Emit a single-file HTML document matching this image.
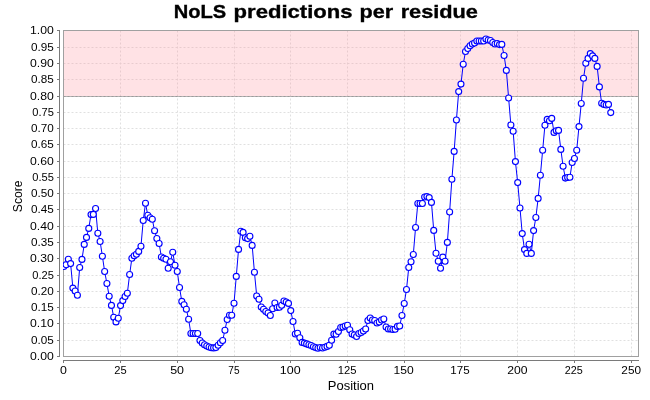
<!DOCTYPE html>
<html><head><meta charset="utf-8"><style>
html,body{margin:0;padding:0;background:#fff;width:650px;height:400px;overflow:hidden}
svg{display:block;will-change:transform}
text{font-family:"Liberation Sans",sans-serif;fill:#000}
</style></head><body>
<svg width="650" height="400" viewBox="0 0 650 400">
<defs><clipPath id="pc"><rect x="63" y="30" width="576" height="327"/></clipPath></defs>

<text x="173.77" y="18" font-size="18.5" font-weight="bold" stroke="#000" stroke-width="0.35" textLength="52.45" lengthAdjust="spacingAndGlyphs">NoLS</text>
<text x="233.61" y="18" font-size="18.5" font-weight="bold" stroke="#000" stroke-width="0.35" textLength="118.94" lengthAdjust="spacingAndGlyphs">predictions</text>
<text x="359.64" y="18" font-size="18.5" font-weight="bold" stroke="#000" stroke-width="0.35" textLength="33.62" lengthAdjust="spacingAndGlyphs">per</text>
<text x="400.66" y="18" font-size="18.5" font-weight="bold" stroke="#000" stroke-width="0.35" textLength="77.30" lengthAdjust="spacingAndGlyphs">residue</text>
<rect x="63" y="30" width="575" height="326" fill="#fff"/>
<path d="M63.5 47.5H638M63.5 63.5H638M63.5 79.5H638M63.5 96.5H638M63.5 112.5H638M63.5 128.5H638M63.5 144.5H638M63.5 161.5H638M63.5 177.5H638M63.5 193.5H638M63.5 209.5H638M63.5 226.5H638M63.5 242.5H638M63.5 258.5H638M63.5 275.5H638M63.5 291.5H638M63.5 307.5H638M63.5 323.5H638M63.5 340.5H638M120.5 30.5V356M177.5 30.5V356M234.5 30.5V356M290.5 30.5V356M347.5 30.5V356M404.5 30.5V356M460.5 30.5V356M517.5 30.5V356M574.5 30.5V356M631.5 30.5V356" stroke="#e0e0e0" stroke-width="1" stroke-dasharray="2,2" fill="none"/>
<rect x="64" y="31" width="574" height="65" fill="rgb(255,140,150)" fill-opacity="0.25"/>
<path d="M64 96.5H638" stroke="#b4b4b4" stroke-width="1"/>
<path d="M63.5 96.5H638" stroke="#9a9a9a" stroke-width="1" stroke-dasharray="2,2"/>
<rect x="63.5" y="30.5" width="575" height="326" fill="none" stroke="#a0a0a0" stroke-width="1"/>
<path d="M59.5 30V357M63 360.5H639" stroke="#7a7a7a" stroke-width="1" fill="none"/>
<path d="M57 30.5H59M57 47.5H59M57 63.5H59M57 79.5H59M57 96.5H59M57 112.5H59M57 128.5H59M57 144.5H59M57 161.5H59M57 177.5H59M57 193.5H59M57 209.5H59M57 226.5H59M57 242.5H59M57 258.5H59M57 275.5H59M57 291.5H59M57 307.5H59M57 323.5H59M57 340.5H59M57 356.5H59M63.5 361V363M120.5 361V363M177.5 361V363M234.5 361V363M290.5 361V363M347.5 361V363M404.5 361V363M460.5 361V363M517.5 361V363M574.5 361V363M631.5 361V363" stroke="#7a7a7a" stroke-width="1" fill="none"/>
<text x="53.85" y="34.3" font-size="10.4" text-anchor="end" textLength="23.80" lengthAdjust="spacingAndGlyphs">1.00</text><text x="53.85" y="51.3" font-size="10.4" text-anchor="end" textLength="22.80" lengthAdjust="spacingAndGlyphs">0.95</text><text x="53.85" y="67.3" font-size="10.4" text-anchor="end" textLength="23.80" lengthAdjust="spacingAndGlyphs">0.90</text><text x="53.85" y="83.3" font-size="10.4" text-anchor="end" textLength="22.80" lengthAdjust="spacingAndGlyphs">0.85</text><text x="53.85" y="100.3" font-size="10.4" text-anchor="end" textLength="23.80" lengthAdjust="spacingAndGlyphs">0.80</text><text x="53.85" y="116.3" font-size="10.4" text-anchor="end" textLength="21.60" lengthAdjust="spacingAndGlyphs">0.75</text><text x="53.85" y="132.3" font-size="10.4" text-anchor="end" textLength="22.80" lengthAdjust="spacingAndGlyphs">0.70</text><text x="53.85" y="148.3" font-size="10.4" text-anchor="end" textLength="22.80" lengthAdjust="spacingAndGlyphs">0.65</text><text x="53.85" y="165.3" font-size="10.4" text-anchor="end" textLength="23.80" lengthAdjust="spacingAndGlyphs">0.60</text><text x="53.85" y="181.3" font-size="10.4" text-anchor="end" textLength="21.60" lengthAdjust="spacingAndGlyphs">0.55</text><text x="53.85" y="197.3" font-size="10.4" text-anchor="end" textLength="22.80" lengthAdjust="spacingAndGlyphs">0.50</text><text x="53.85" y="213.3" font-size="10.4" text-anchor="end" textLength="22.80" lengthAdjust="spacingAndGlyphs">0.45</text><text x="53.85" y="230.3" font-size="10.4" text-anchor="end" textLength="23.80" lengthAdjust="spacingAndGlyphs">0.40</text><text x="53.85" y="246.3" font-size="10.4" text-anchor="end" textLength="22.80" lengthAdjust="spacingAndGlyphs">0.35</text><text x="53.85" y="262.3" font-size="10.4" text-anchor="end" textLength="23.80" lengthAdjust="spacingAndGlyphs">0.30</text><text x="53.85" y="279.3" font-size="10.4" text-anchor="end" textLength="21.60" lengthAdjust="spacingAndGlyphs">0.25</text><text x="53.85" y="295.3" font-size="10.4" text-anchor="end" textLength="22.80" lengthAdjust="spacingAndGlyphs">0.20</text><text x="53.85" y="311.3" font-size="10.4" text-anchor="end" textLength="22.80" lengthAdjust="spacingAndGlyphs">0.15</text><text x="53.85" y="327.3" font-size="10.4" text-anchor="end" textLength="23.80" lengthAdjust="spacingAndGlyphs">0.10</text><text x="53.85" y="344.3" font-size="10.4" text-anchor="end" textLength="22.80" lengthAdjust="spacingAndGlyphs">0.05</text><text x="53.85" y="360.3" font-size="10.4" text-anchor="end" textLength="23.80" lengthAdjust="spacingAndGlyphs">0.00</text>
<text x="59.94" y="374.2" font-size="10.4" textLength="6.87" lengthAdjust="spacingAndGlyphs">0</text><text x="114.34" y="374.2" font-size="10.4" textLength="12.37" lengthAdjust="spacingAndGlyphs">25</text><text x="170.19" y="374.2" font-size="10.4" textLength="13.82" lengthAdjust="spacingAndGlyphs">50</text><text x="228.37" y="374.2" font-size="10.4" textLength="11.22" lengthAdjust="spacingAndGlyphs">75</text><text x="279.86" y="374.2" font-size="10.4" textLength="20.83" lengthAdjust="spacingAndGlyphs">100</text><text x="337.84" y="374.2" font-size="10.4" textLength="18.75" lengthAdjust="spacingAndGlyphs">125</text><text x="393.46" y="374.2" font-size="10.4" textLength="20.18" lengthAdjust="spacingAndGlyphs">150</text><text x="450.37" y="374.2" font-size="10.4" textLength="19.33" lengthAdjust="spacingAndGlyphs">175</text><text x="507.35" y="374.2" font-size="10.4" textLength="20.29" lengthAdjust="spacingAndGlyphs">200</text><text x="564.65" y="374.2" font-size="10.4" textLength="18.02" lengthAdjust="spacingAndGlyphs">225</text><text x="621.39" y="374.2" font-size="10.4" textLength="19.64" lengthAdjust="spacingAndGlyphs">250</text>
<text x="350.95" y="390" font-size="12.3" text-anchor="middle" textLength="46.2" lengthAdjust="spacingAndGlyphs">Position</text>
<text transform="translate(22,196.3) rotate(-90)" font-size="12.3" text-anchor="middle" textLength="31.8" lengthAdjust="spacingAndGlyphs">Score</text>
<g clip-path="url(#pc)">
<path d="M63.80 266.50L66.07 264.70L68.34 259.20L70.61 263.60L72.88 288.10L75.15 291.00L77.42 295.20L79.69 267.50L81.96 259.40L84.23 244.40L86.50 237.40L88.76 228.40L91.03 214.60L93.30 214.40L95.57 208.50L97.84 233.20L100.11 241.50L102.38 256.20L104.65 271.50L106.92 283.50L109.19 296.30L111.46 305.40L113.73 317.20L116.00 321.90L118.27 318.20L120.54 305.60L122.81 300.60L125.08 296.50L127.35 293.20L129.62 274.50L131.88 258.30L134.15 255.70L136.42 254.20L138.69 251.40L140.96 246.30L143.23 220.50L145.50 203.30L147.77 215.30L150.04 217.80L152.31 219.30L154.58 230.70L156.85 238.50L159.12 243.50L161.39 257.00L163.66 258.30L165.93 259.20L168.20 268.30L170.47 261.70L172.74 252.20L175.01 265.30L177.27 271.50L179.54 287.50L181.81 301.40L184.08 304.80L186.35 309.20L188.62 319.30L190.89 333.50L193.16 333.50L195.43 333.50L197.70 333.50L199.97 340.50L202.24 343.00L204.51 344.80L206.78 346.00L209.05 347.00L211.32 347.70L213.59 347.90L215.86 347.60L218.13 345.20L220.40 342.80L222.66 340.50L224.93 330.20L227.20 319.50L229.47 315.20L231.74 315.20L234.01 303.20L236.28 276.40L238.55 249.40L240.82 231.20L243.09 232.40L245.36 237.70L247.63 238.60L249.90 236.30L252.17 245.40L254.44 272.30L256.71 296.00L258.98 299.20L261.25 307.00L263.52 309.30L265.79 311.50L268.06 313.00L270.32 315.50L272.59 308.70L274.86 303.00L277.13 307.50L279.40 307.30L281.67 305.20L283.94 301.00L286.21 302.00L288.48 303.40L290.75 310.60L293.02 321.50L295.29 334.00L297.56 333.20L299.83 337.70L302.10 342.40L304.37 343.10L306.64 343.90L308.91 344.80L311.18 345.50L313.44 346.80L315.71 347.60L317.98 348.20L320.25 347.50L322.52 348.00L324.79 347.20L327.06 346.40L329.33 345.30L331.60 340.30L333.87 334.10L336.14 334.30L338.41 331.50L340.68 327.50L342.95 327.00L345.22 326.00L347.49 325.20L349.76 329.80L352.03 334.00L354.30 335.00L356.57 336.50L358.83 333.50L361.10 332.50L363.37 331.00L365.64 329.00L367.91 320.50L370.18 318.00L372.45 320.00L374.72 320.50L376.99 323.00L379.26 322.00L381.53 320.00L383.80 319.00L386.07 327.00L388.34 329.00L390.61 329.00L392.88 329.50L395.15 329.30L397.42 326.40L399.69 326.00L401.96 315.50L404.22 303.50L406.49 289.50L408.76 267.50L411.03 261.80L413.30 254.50L415.57 227.50L417.84 203.50L420.11 203.50L422.38 203.50L424.65 197.00L426.92 196.60L429.19 197.60L431.46 202.40L433.73 230.40L436.00 253.20L438.27 261.30L440.54 268.20L442.81 257.10L445.08 261.30L447.35 242.40L449.62 212.00L451.88 179.30L454.15 151.40L456.42 120.00L458.69 91.60L460.96 84.10L463.23 64.20L465.50 51.50L467.77 48.50L470.04 45.80L472.31 44.00L474.58 43.00L476.85 41.00L479.12 41.00L481.39 41.00L483.66 41.00L485.93 39.00L488.20 40.00L490.47 40.50L492.74 42.50L495.00 44.00L497.27 43.50L499.54 44.60L501.81 44.40L504.08 55.50L506.35 70.40L508.62 98.00L510.89 125.00L513.16 131.30L515.43 161.60L517.70 182.60L519.97 208.00L522.24 233.60L524.51 249.60L526.78 253.40L529.05 244.20L531.32 253.40L533.59 230.60L535.86 217.50L538.13 198.40L540.39 175.20L542.66 150.30L544.93 125.30L547.20 119.40L549.47 120.70L551.74 118.40L554.01 132.40L556.28 130.70L558.55 130.40L560.82 149.40L563.09 166.30L565.36 178.10L567.63 177.50L569.90 177.30L572.17 162.50L574.44 158.50L576.71 150.20L578.98 126.60L581.25 103.50L583.52 78.20L585.78 63.30L588.05 58.40L590.32 53.60L592.59 55.90L594.86 58.40L597.13 66.40L599.40 86.90L601.67 103.20L603.94 104.40L606.21 105.00L608.48 104.40L610.75 112.60" stroke="#0000ff" stroke-width="1" fill="none" stroke-linejoin="bevel"/>
<g fill="#fff" stroke="#0000ff" stroke-width="1.12"><circle cx="63.80" cy="266.50" r="3"/><circle cx="66.07" cy="264.70" r="3"/><circle cx="68.34" cy="259.20" r="3"/><circle cx="70.61" cy="263.60" r="3"/><circle cx="72.88" cy="288.10" r="3"/><circle cx="75.15" cy="291.00" r="3"/><circle cx="77.42" cy="295.20" r="3"/><circle cx="79.69" cy="267.50" r="3"/><circle cx="81.96" cy="259.40" r="3"/><circle cx="84.23" cy="244.40" r="3"/><circle cx="86.50" cy="237.40" r="3"/><circle cx="88.76" cy="228.40" r="3"/><circle cx="91.03" cy="214.60" r="3"/><circle cx="93.30" cy="214.40" r="3"/><circle cx="95.57" cy="208.50" r="3"/><circle cx="97.84" cy="233.20" r="3"/><circle cx="100.11" cy="241.50" r="3"/><circle cx="102.38" cy="256.20" r="3"/><circle cx="104.65" cy="271.50" r="3"/><circle cx="106.92" cy="283.50" r="3"/><circle cx="109.19" cy="296.30" r="3"/><circle cx="111.46" cy="305.40" r="3"/><circle cx="113.73" cy="317.20" r="3"/><circle cx="116.00" cy="321.90" r="3"/><circle cx="118.27" cy="318.20" r="3"/><circle cx="120.54" cy="305.60" r="3"/><circle cx="122.81" cy="300.60" r="3"/><circle cx="125.08" cy="296.50" r="3"/><circle cx="127.35" cy="293.20" r="3"/><circle cx="129.62" cy="274.50" r="3"/><circle cx="131.88" cy="258.30" r="3"/><circle cx="134.15" cy="255.70" r="3"/><circle cx="136.42" cy="254.20" r="3"/><circle cx="138.69" cy="251.40" r="3"/><circle cx="140.96" cy="246.30" r="3"/><circle cx="143.23" cy="220.50" r="3"/><circle cx="145.50" cy="203.30" r="3"/><circle cx="147.77" cy="215.30" r="3"/><circle cx="150.04" cy="217.80" r="3"/><circle cx="152.31" cy="219.30" r="3"/><circle cx="154.58" cy="230.70" r="3"/><circle cx="156.85" cy="238.50" r="3"/><circle cx="159.12" cy="243.50" r="3"/><circle cx="161.39" cy="257.00" r="3"/><circle cx="163.66" cy="258.30" r="3"/><circle cx="165.93" cy="259.20" r="3"/><circle cx="168.20" cy="268.30" r="3"/><circle cx="170.47" cy="261.70" r="3"/><circle cx="172.74" cy="252.20" r="3"/><circle cx="175.01" cy="265.30" r="3"/><circle cx="177.27" cy="271.50" r="3"/><circle cx="179.54" cy="287.50" r="3"/><circle cx="181.81" cy="301.40" r="3"/><circle cx="184.08" cy="304.80" r="3"/><circle cx="186.35" cy="309.20" r="3"/><circle cx="188.62" cy="319.30" r="3"/><circle cx="190.89" cy="333.50" r="3"/><circle cx="193.16" cy="333.50" r="3"/><circle cx="195.43" cy="333.50" r="3"/><circle cx="197.70" cy="333.50" r="3"/><circle cx="199.97" cy="340.50" r="3"/><circle cx="202.24" cy="343.00" r="3"/><circle cx="204.51" cy="344.80" r="3"/><circle cx="206.78" cy="346.00" r="3"/><circle cx="209.05" cy="347.00" r="3"/><circle cx="211.32" cy="347.70" r="3"/><circle cx="213.59" cy="347.90" r="3"/><circle cx="215.86" cy="347.60" r="3"/><circle cx="218.13" cy="345.20" r="3"/><circle cx="220.40" cy="342.80" r="3"/><circle cx="222.66" cy="340.50" r="3"/><circle cx="224.93" cy="330.20" r="3"/><circle cx="227.20" cy="319.50" r="3"/><circle cx="229.47" cy="315.20" r="3"/><circle cx="231.74" cy="315.20" r="3"/><circle cx="234.01" cy="303.20" r="3"/><circle cx="236.28" cy="276.40" r="3"/><circle cx="238.55" cy="249.40" r="3"/><circle cx="240.82" cy="231.20" r="3"/><circle cx="243.09" cy="232.40" r="3"/><circle cx="245.36" cy="237.70" r="3"/><circle cx="247.63" cy="238.60" r="3"/><circle cx="249.90" cy="236.30" r="3"/><circle cx="252.17" cy="245.40" r="3"/><circle cx="254.44" cy="272.30" r="3"/><circle cx="256.71" cy="296.00" r="3"/><circle cx="258.98" cy="299.20" r="3"/><circle cx="261.25" cy="307.00" r="3"/><circle cx="263.52" cy="309.30" r="3"/><circle cx="265.79" cy="311.50" r="3"/><circle cx="268.06" cy="313.00" r="3"/><circle cx="270.32" cy="315.50" r="3"/><circle cx="272.59" cy="308.70" r="3"/><circle cx="274.86" cy="303.00" r="3"/><circle cx="277.13" cy="307.50" r="3"/><circle cx="279.40" cy="307.30" r="3"/><circle cx="281.67" cy="305.20" r="3"/><circle cx="283.94" cy="301.00" r="3"/><circle cx="286.21" cy="302.00" r="3"/><circle cx="288.48" cy="303.40" r="3"/><circle cx="290.75" cy="310.60" r="3"/><circle cx="293.02" cy="321.50" r="3"/><circle cx="295.29" cy="334.00" r="3"/><circle cx="297.56" cy="333.20" r="3"/><circle cx="299.83" cy="337.70" r="3"/><circle cx="302.10" cy="342.40" r="3"/><circle cx="304.37" cy="343.10" r="3"/><circle cx="306.64" cy="343.90" r="3"/><circle cx="308.91" cy="344.80" r="3"/><circle cx="311.18" cy="345.50" r="3"/><circle cx="313.44" cy="346.80" r="3"/><circle cx="315.71" cy="347.60" r="3"/><circle cx="317.98" cy="348.20" r="3"/><circle cx="320.25" cy="347.50" r="3"/><circle cx="322.52" cy="348.00" r="3"/><circle cx="324.79" cy="347.20" r="3"/><circle cx="327.06" cy="346.40" r="3"/><circle cx="329.33" cy="345.30" r="3"/><circle cx="331.60" cy="340.30" r="3"/><circle cx="333.87" cy="334.10" r="3"/><circle cx="336.14" cy="334.30" r="3"/><circle cx="338.41" cy="331.50" r="3"/><circle cx="340.68" cy="327.50" r="3"/><circle cx="342.95" cy="327.00" r="3"/><circle cx="345.22" cy="326.00" r="3"/><circle cx="347.49" cy="325.20" r="3"/><circle cx="349.76" cy="329.80" r="3"/><circle cx="352.03" cy="334.00" r="3"/><circle cx="354.30" cy="335.00" r="3"/><circle cx="356.57" cy="336.50" r="3"/><circle cx="358.83" cy="333.50" r="3"/><circle cx="361.10" cy="332.50" r="3"/><circle cx="363.37" cy="331.00" r="3"/><circle cx="365.64" cy="329.00" r="3"/><circle cx="367.91" cy="320.50" r="3"/><circle cx="370.18" cy="318.00" r="3"/><circle cx="372.45" cy="320.00" r="3"/><circle cx="374.72" cy="320.50" r="3"/><circle cx="376.99" cy="323.00" r="3"/><circle cx="379.26" cy="322.00" r="3"/><circle cx="381.53" cy="320.00" r="3"/><circle cx="383.80" cy="319.00" r="3"/><circle cx="386.07" cy="327.00" r="3"/><circle cx="388.34" cy="329.00" r="3"/><circle cx="390.61" cy="329.00" r="3"/><circle cx="392.88" cy="329.50" r="3"/><circle cx="395.15" cy="329.30" r="3"/><circle cx="397.42" cy="326.40" r="3"/><circle cx="399.69" cy="326.00" r="3"/><circle cx="401.96" cy="315.50" r="3"/><circle cx="404.22" cy="303.50" r="3"/><circle cx="406.49" cy="289.50" r="3"/><circle cx="408.76" cy="267.50" r="3"/><circle cx="411.03" cy="261.80" r="3"/><circle cx="413.30" cy="254.50" r="3"/><circle cx="415.57" cy="227.50" r="3"/><circle cx="417.84" cy="203.50" r="3"/><circle cx="420.11" cy="203.50" r="3"/><circle cx="422.38" cy="203.50" r="3"/><circle cx="424.65" cy="197.00" r="3"/><circle cx="426.92" cy="196.60" r="3"/><circle cx="429.19" cy="197.60" r="3"/><circle cx="431.46" cy="202.40" r="3"/><circle cx="433.73" cy="230.40" r="3"/><circle cx="436.00" cy="253.20" r="3"/><circle cx="438.27" cy="261.30" r="3"/><circle cx="440.54" cy="268.20" r="3"/><circle cx="442.81" cy="257.10" r="3"/><circle cx="445.08" cy="261.30" r="3"/><circle cx="447.35" cy="242.40" r="3"/><circle cx="449.62" cy="212.00" r="3"/><circle cx="451.88" cy="179.30" r="3"/><circle cx="454.15" cy="151.40" r="3"/><circle cx="456.42" cy="120.00" r="3"/><circle cx="458.69" cy="91.60" r="3"/><circle cx="460.96" cy="84.10" r="3"/><circle cx="463.23" cy="64.20" r="3"/><circle cx="465.50" cy="51.50" r="3"/><circle cx="467.77" cy="48.50" r="3"/><circle cx="470.04" cy="45.80" r="3"/><circle cx="472.31" cy="44.00" r="3"/><circle cx="474.58" cy="43.00" r="3"/><circle cx="476.85" cy="41.00" r="3"/><circle cx="479.12" cy="41.00" r="3"/><circle cx="481.39" cy="41.00" r="3"/><circle cx="483.66" cy="41.00" r="3"/><circle cx="485.93" cy="39.00" r="3"/><circle cx="488.20" cy="40.00" r="3"/><circle cx="490.47" cy="40.50" r="3"/><circle cx="492.74" cy="42.50" r="3"/><circle cx="495.00" cy="44.00" r="3"/><circle cx="497.27" cy="43.50" r="3"/><circle cx="499.54" cy="44.60" r="3"/><circle cx="501.81" cy="44.40" r="3"/><circle cx="504.08" cy="55.50" r="3"/><circle cx="506.35" cy="70.40" r="3"/><circle cx="508.62" cy="98.00" r="3"/><circle cx="510.89" cy="125.00" r="3"/><circle cx="513.16" cy="131.30" r="3"/><circle cx="515.43" cy="161.60" r="3"/><circle cx="517.70" cy="182.60" r="3"/><circle cx="519.97" cy="208.00" r="3"/><circle cx="522.24" cy="233.60" r="3"/><circle cx="524.51" cy="249.60" r="3"/><circle cx="526.78" cy="253.40" r="3"/><circle cx="529.05" cy="244.20" r="3"/><circle cx="531.32" cy="253.40" r="3"/><circle cx="533.59" cy="230.60" r="3"/><circle cx="535.86" cy="217.50" r="3"/><circle cx="538.13" cy="198.40" r="3"/><circle cx="540.39" cy="175.20" r="3"/><circle cx="542.66" cy="150.30" r="3"/><circle cx="544.93" cy="125.30" r="3"/><circle cx="547.20" cy="119.40" r="3"/><circle cx="549.47" cy="120.70" r="3"/><circle cx="551.74" cy="118.40" r="3"/><circle cx="554.01" cy="132.40" r="3"/><circle cx="556.28" cy="130.70" r="3"/><circle cx="558.55" cy="130.40" r="3"/><circle cx="560.82" cy="149.40" r="3"/><circle cx="563.09" cy="166.30" r="3"/><circle cx="565.36" cy="178.10" r="3"/><circle cx="567.63" cy="177.50" r="3"/><circle cx="569.90" cy="177.30" r="3"/><circle cx="572.17" cy="162.50" r="3"/><circle cx="574.44" cy="158.50" r="3"/><circle cx="576.71" cy="150.20" r="3"/><circle cx="578.98" cy="126.60" r="3"/><circle cx="581.25" cy="103.50" r="3"/><circle cx="583.52" cy="78.20" r="3"/><circle cx="585.78" cy="63.30" r="3"/><circle cx="588.05" cy="58.40" r="3"/><circle cx="590.32" cy="53.60" r="3"/><circle cx="592.59" cy="55.90" r="3"/><circle cx="594.86" cy="58.40" r="3"/><circle cx="597.13" cy="66.40" r="3"/><circle cx="599.40" cy="86.90" r="3"/><circle cx="601.67" cy="103.20" r="3"/><circle cx="603.94" cy="104.40" r="3"/><circle cx="606.21" cy="105.00" r="3"/><circle cx="608.48" cy="104.40" r="3"/><circle cx="610.75" cy="112.60" r="3"/></g>
</g>
</svg>
</body></html>
